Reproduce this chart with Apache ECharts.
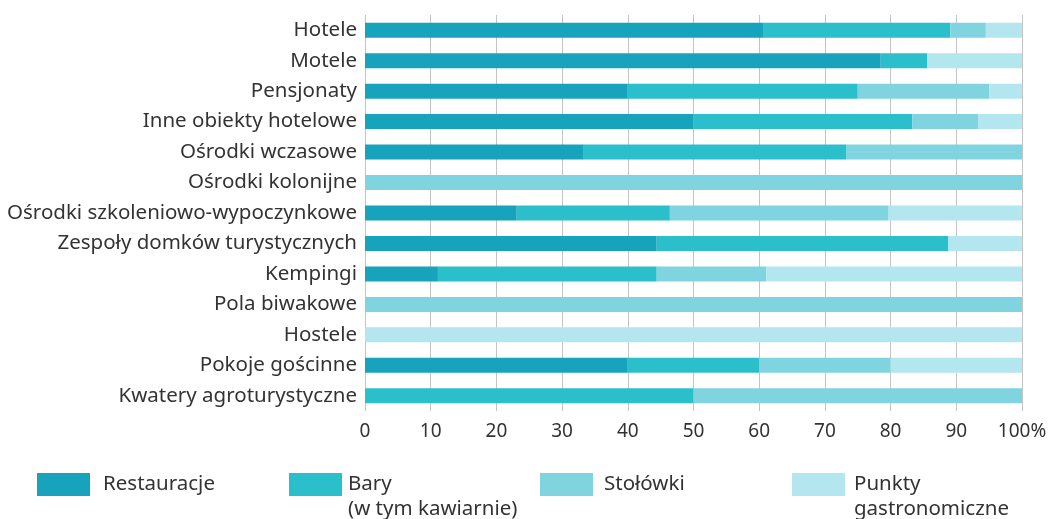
<!DOCTYPE html>
<html>
<head>
<meta charset="utf-8">
<script src="https://cdn.jsdelivr.net/npm/echarts@6/dist/echarts.min.js"></script>
<style>
  html, body { margin: 0; padding: 0; background: #fff; }
  #main { width: 1054px; height: 519px; }
</style>
</head>
<body>
<div id="main"></div>
<script>
// typy obiektow noclegowych (od gory)
var categories = [
  'Hotele', 'Motele', 'Pensjonaty', 'Inne obiekty hotelowe', 'Ośrodki wczasowe',
  'Ośrodki kolonijne', 'Ośrodki szkoleniowo-wypoczynkowe', 'Zespoły domków turystycznych',
  'Kempingi', 'Pola biwakowe', 'Hostele', 'Pokoje gościnne', 'Kwatery agroturystyczne'
];
var restauracje = [60.7, 78.5, 40, 50, 33.3, 0, 23.1, 44.4, 11.1, 0, 0, 40, 0];
var bary        = [28.4, 7.1, 35, 33.3, 40, 0, 23.3, 44.4, 33.3, 0, 0, 20, 50];
var stolowki    = [5.4, 0, 20, 10, 26.7, 100, 33.3, 0, 16.7, 100, 0, 20, 50];
var punkty      = [5.5, 14.4, 5, 6.7, 0, 0, 20.3, 11.2, 38.9, 0, 100, 20, 0];
var xTicks = [0, 10, 20, 30, 40, 50, 60, 70, 80, 90, 100];

var seriesNames = ['Restauracje', 'Bary', 'Stołówki', 'Punkty'];
var legendLabels = ['Restauracje', 'Bary\n(w tym kawiarnie)', 'Stołówki', 'Punkty\ngastronomiczne'];
var colors = ['#18a3bc', '#2bbfcc', '#7fd4e0', '#b4e6ef'];

var font = 'Noto Sans';
var textColor = '#333333';

function bar(name, data, color) {
  return {
    name: name,
    type: 'bar',
    stack: 'total',
    barWidth: 15,
    data: data,
    itemStyle: { color: color },
    emphasis: { disabled: true }
  };
}

// osobna legenda dla kazdej pozycji; pusty wiersz na gorze sprawia,
// ze pierwszy wiersz opisu wypada na srodku ikonki
var legendLeft = [37, 289, 540, 792];
var legendGap = [8, 1, 6, 4];
var legends = seriesNames.map(function (n, i) {
  var twoLines = legendLabels[i].indexOf('\n') >= 0;
  return {
    data: [n],
    left: legendLeft[i],
    top: twoLines ? 447 : 472,
    padding: 0,
    icon: 'rect',
    itemWidth: 53,
    itemHeight: 23,
    selectedMode: false,
    formatter: function () { return twoLines ? ' \n' + legendLabels[i] : legendLabels[i]; },
    textStyle: {
      fontFamily: font,
      fontSize: 20.5,
      color: textColor,
      lineHeight: 25,
      padding: [0, 0, 0, legendGap[i]]
    }
  };
});

var chart = echarts.init(document.getElementById('main'));
chart.setOption({
  animation: false,
  color: colors,
  legend: legends,
  grid: { left: 365, right: 32, top: 15, bottom: 108, containLabel: false },
  xAxis: {
    type: 'value',
    min: xTicks[0],
    max: xTicks[xTicks.length - 1],
    interval: 10,
    axisLine: { show: false },
    axisTick: { show: false },
    splitLine: { show: true, lineStyle: { color: '#c4c4c4', width: 1 } },
    axisLabel: {
      margin: 11,
      fontFamily: font,
      fontSize: 19,
      color: textColor,
      formatter: function (v) { return v === 100 ? '100%' : String(v); }
    }
  },
  yAxis: {
    type: 'category',
    inverse: true,
    data: categories,
    axisLine: { show: false },
    axisTick: { show: false },
    splitLine: { show: false },
    axisLabel: {
      margin: 8,
      fontFamily: font,
      fontSize: 20.5,
      color: textColor
    }
  },
  series: [
    bar(seriesNames[0], restauracje, colors[0]),
    bar(seriesNames[1], bary, colors[1]),
    bar(seriesNames[2], stolowki, colors[2]),
    bar(seriesNames[3], punkty, colors[3])
  ]
});
</script>
</body>
</html>
